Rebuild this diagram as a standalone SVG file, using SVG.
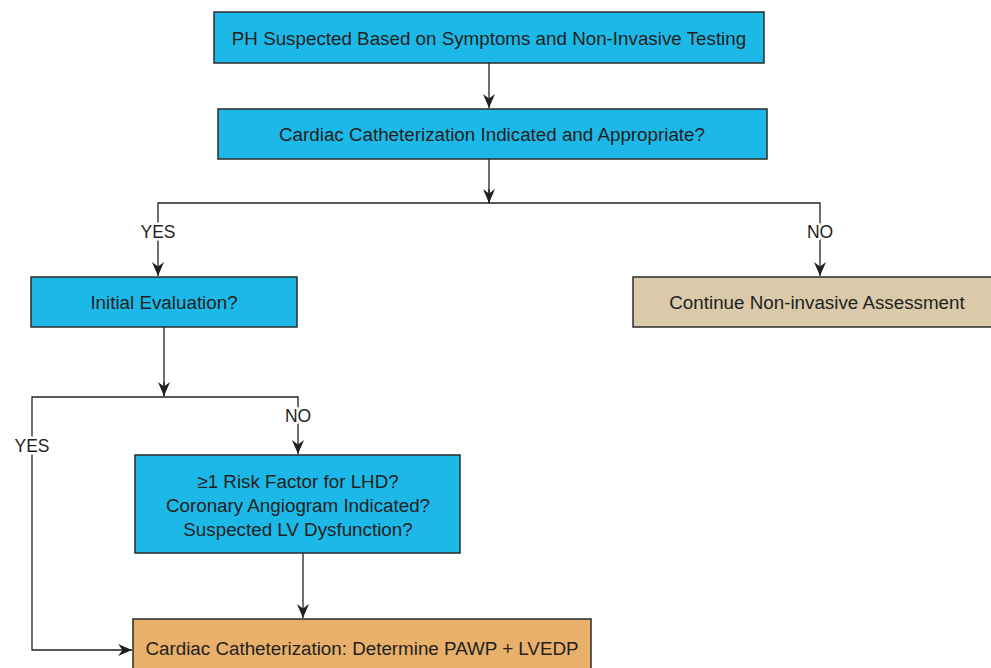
<svg xmlns="http://www.w3.org/2000/svg" width="991" height="668" viewBox="0 0 991 668">
<style>
.box{stroke:#2b2b2b;stroke-width:1.5}
.blue{fill:#1bb8e8}
.tan{fill:#dacaa9}
.orange{fill:#e8b06a}
text{font-family:"Liberation Sans",Arial,sans-serif;font-size:18.8px;fill:#231f20;text-anchor:middle}
.lbl{font-size:17.5px;stroke:#fff;stroke-width:5;paint-order:stroke;stroke-linejoin:round}
.c{fill:none;stroke:#231f20;stroke-width:1.3}
</style>
<defs>
<marker id="ah" viewBox="0 0 14 12" refX="14" refY="6" markerWidth="14" markerHeight="12" markerUnits="userSpaceOnUse" orient="auto">
<path d="M0,0 L14,6 L0,12 L4.5,6 z" fill="#231f20"/>
</marker>
</defs>
<rect width="991" height="668" fill="#fff"/>
<g id="connectors">
<path class="c" d="M489,63 V108" marker-end="url(#ah)"/>
<path class="c" d="M489,159 V203"/>
<path class="c" d="M489,203 H158 V276" marker-end="url(#ah)"/>
<path class="c" d="M489,203 H820 V276" marker-end="url(#ah)"/>
<path class="c" d="M164,327 V396"/>
<path class="c" d="M164,397 H298 V454" marker-end="url(#ah)"/>
<path class="c" d="M164,397 H32 V650 H132" marker-end="url(#ah)"/>
<path class="c" d="M303,553 V618" marker-end="url(#ah)"/>
<path class="c" d="M164,382 V396" marker-end="url(#ah)"/>
<path class="c" d="M489,189 V203" marker-end="url(#ah)"/>
<text class="lbl" x="158" y="238">YES</text>
<text class="lbl" x="820" y="238">NO</text>
<text class="lbl" x="298" y="422">NO</text>
<text class="lbl" x="32" y="452">YES</text>
</g>
<g id="n1">
<rect class="box blue" x="214" y="12" width="550" height="51"/>
<text x="489" y="45">PH Suspected Based on Symptoms and Non-Invasive Testing</text>
</g>
<g id="n2">
<rect class="box blue" x="218" y="109" width="549" height="50"/>
<text x="492" y="141">Cardiac Catheterization Indicated and Appropriate?</text>
</g>
<g id="n3">
<rect class="box blue" x="31" y="277" width="266" height="50"/>
<text x="164" y="309">Initial Evaluation?</text>
</g>
<g id="n4">
<rect class="box tan" x="633" y="277" width="362" height="50"/>
<text x="817" y="309">Continue Non-invasive Assessment</text>
</g>
<g id="n5">
<rect class="box blue" x="135" y="455" width="325" height="98"/>
<text x="298" y="488">≥1 Risk Factor for LHD?</text>
<text x="298" y="512">Coronary Angiogram Indicated?</text>
<text x="298" y="536">Suspected LV Dysfunction?</text>
</g>
<g id="n6">
<rect class="box orange" x="133" y="619" width="458" height="55"/>
<text x="362" y="655">Cardiac Catheterization: Determine PAWP + LVEDP</text>
</g>
</svg>
